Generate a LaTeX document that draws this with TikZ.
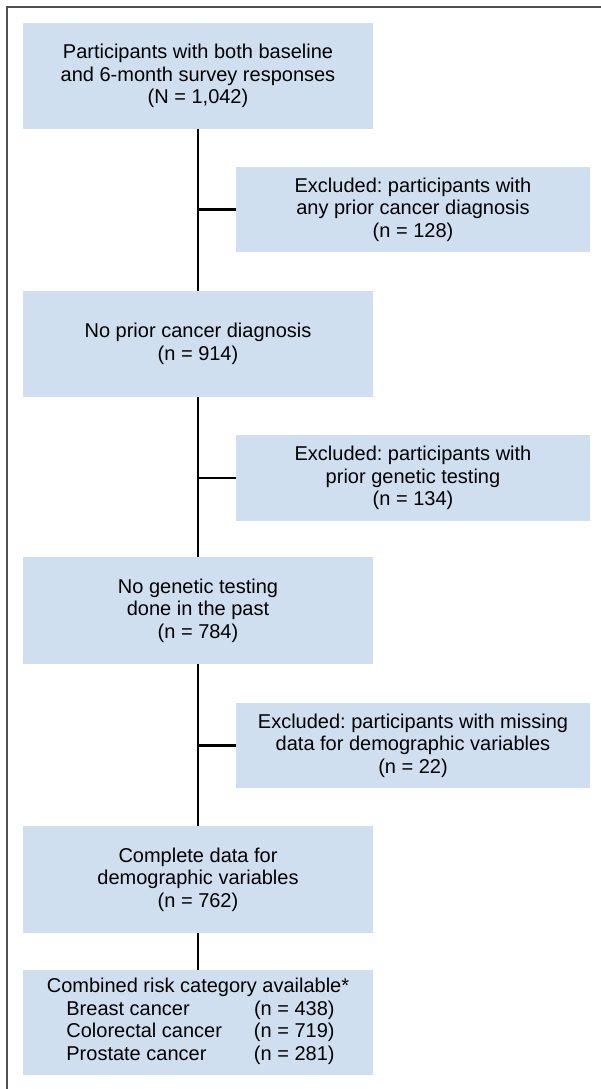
\documentclass[tikz,border=0pt]{standalone}
\usepackage{fontspec}
\setmainfont{Liberation Sans}
\frenchspacing
\definecolor{boxblue}{RGB}{208,223,240}
\definecolor{framegray}{RGB}{80,80,80}
\begin{document}
\begin{tikzpicture}[x=1pt,y=-1pt,
  box/.style={fill=boxblue, inner sep=0pt, align=center, font=\frenchspacing\fontsize{20}{22.5}\selectfont},
  mainbox/.style={box, minimum width=350pt},
  exbox/.style={box, minimum width=354pt},
  conn/.style={line width=2.5pt, black}]
\useasboundingbox (0,0) rectangle (600,1089);
\draw[framegray, line width=2pt] (7,1095) -- (7,7) -- (605,7);
\node[mainbox, minimum height=106pt] (b1) at (198,76) {Participants with both baseline\\and 6-month survey responses\\(N = 1,042)};
\node[exbox, minimum height=85pt] (e1) at (413,209.5) {Excluded: participants with\\any prior cancer diagnosis\\(n = 128)};
\node[mainbox, minimum height=106pt] (b2) at (198,344) {No prior cancer diagnosis\\(n = 914)};
\node[exbox, minimum height=86pt] (e2) at (413,478) {Excluded: participants with\\prior genetic testing\\(n = 134)};
\node[mainbox, minimum height=107pt] (b3) at (198,610.5) {No genetic testing\\done in the past\\(n = 784)};
\node[exbox, minimum height=85pt] (e3) at (413,745.5) {Excluded: participants with missing\\data for demographic variables\\(n = 22)};
\node[mainbox, minimum height=107pt] (b4) at (198,879.5) {Complete data for\\demographic variables\\(n = 762)};
\node[mainbox, minimum height=105pt] (b5) at (198,1022.5) {Combined risk category available*\\\hspace*{5pt}\begin{tabular}[t]{@{}l@{\hspace{32pt}}l@{}}Breast cancer & (n = 438)\\Colorectal cancer & (n = 719)\\Prostate cancer & (n = 281)\end{tabular}};
\draw[conn] (b1.south) -- (b2.north);
\draw[conn] (b2.south) -- (b3.north);
\draw[conn] (b3.south) -- (b4.north);
\draw[conn] (b4.south) -- (b5.north);
\coordinate (j1) at (b1.south |- e1.west);
\coordinate (j2) at (b2.south |- e2.west);
\coordinate (j3) at (b3.south |- e3.west);
\draw[conn] (j1) -- (e1.west);
\draw[conn] (j2) -- (e2.west);
\draw[conn] (j3) -- (e3.west);
\end{tikzpicture}
\end{document}
